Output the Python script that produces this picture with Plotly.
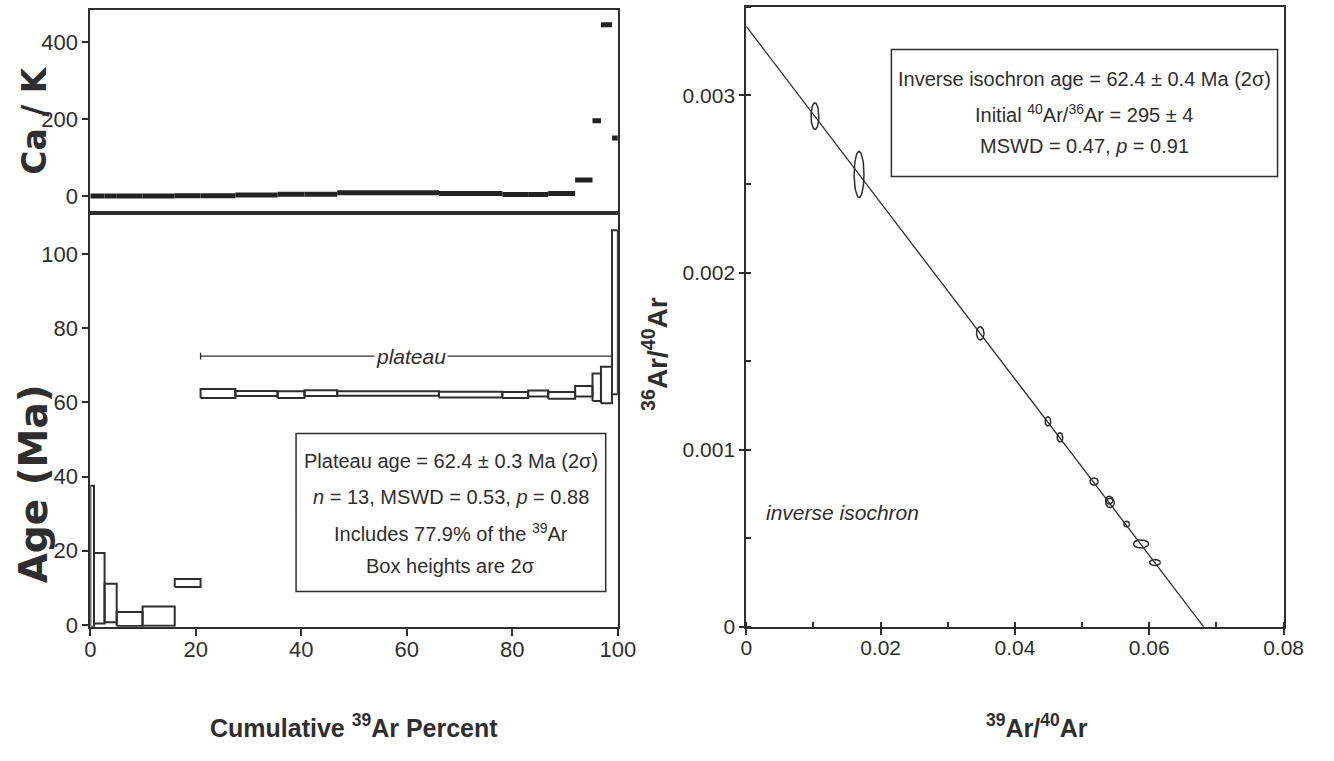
import numpy as np
import plotly.graph_objects as go

# ---------------- data ----------------
# age spectrum steps (cumulative 39Ar %)
step_edges = [0, 0.7, 2.7, 5.0, 9.9, 16.0, 20.9, 27.5, 35.5, 40.6, 46.8, 66.1,
              78.1, 83.0, 86.8, 91.9, 95.2, 96.8, 98.9, 100]
step_age = [18.5, 9.9, 5.9, 1.6, 2.4, 11.3, 62.4, 62.4, 62.1, 62.5, 62.4, 62.1,
            62.0, 62.4, 61.9, 63.0, 64.1, 64.7, 84.3]
step_err = [19.0, 9.5, 5.2, 1.9, 2.6, 1.1, 1.2, 0.7, 0.9, 0.8, 0.6, 0.8,
            0.8, 0.8, 0.9, 1.4, 3.7, 4.9, 22.1]
step_cak = [0.3, 0.3, 0.3, 0.3, 0.3, 1.0, 1.0, 2.6, 5.0, 5.0, 8.5, 7.0,
            4.0, 4.0, 7.0, 42.0, 196.0, 446.0, 151.0]

plateau_start = 20.9
plateau_end = 98.9
plateau_level = 72.5

# inverse isochron data (39Ar/40Ar, 36Ar/40Ar) and ellipse semi-axes
iso_x = [0.01022, 0.01679, 0.03483, 0.04491, 0.04670, 0.05178, 0.05416, 0.05405, 0.05664, 0.05877, 0.06085]
iso_y = [0.002883, 0.002554, 0.001657, 0.00116, 0.00107, 0.00082, 0.00070, 0.000715, 0.00058, 0.000468, 0.000363]
iso_sx = [0.00058, 0.00073, 0.00056, 0.00042, 0.00042, 0.00061, 0.00064, 0.00055, 0.00042, 0.00112, 0.00080]
iso_sy = [0.000075, 0.000130, 0.000037, 0.000026, 0.000026, 0.000020, 0.000026, 0.000022, 0.000016, 0.000023, 0.000017]

fit_x = [0.0, 0.0681]
fit_y = [0.00339, 0.0]

ca_k_ticks = [0, 200, 400]
age_ticks = [0, 20, 40, 60, 80, 100]
cum_ticks = [0, 20, 40, 60, 80, 100]
iso_xticks = [0, 0.02, 0.04, 0.06, 0.08]
iso_xtick_labels = ["0", "0.02", "0.04", "0.06", "0.08"]
iso_yticks = [0, 0.001, 0.002, 0.003]
iso_ytick_labels = ["0", "0.001", "0.002", "0.003"]

plateau_lines = ["Plateau age = 62.4 ± 0.3 Ma (2σ)",
                 "<i>n</i> = 13, MSWD = 0.53, <i>p</i> = 0.88",
                 "Includes 77.9% of the <sup>39</sup>Ar",
                 "Box heights are 2σ"]
isochron_lines = ["Inverse isochron age = 62.4 ± 0.4 Ma (2σ)",
                  "Initial <sup>40</sup>Ar/<sup>36</sup>Ar = 295 ± 4",
                  "MSWD = 0.47, <i>p</i> = 0.91"]

# ---------------- style ----------------
INK = "#2e2e2e"
SANS = "Liberation Sans, Arial, sans-serif"
W, H = 1334, 761


def px_x(p):
    return p / W


def px_y(p):
    return 1 - p / H


fig = go.Figure()

# Ca/K bars
cx, cy = [], []
for i, v in enumerate(step_cak):
    cx += [step_edges[i], step_edges[i + 1], None]
    cy += [v, v, None]
fig.add_trace(go.Scatter(x=cx, y=cy, mode="lines", xaxis="x", yaxis="y",
                         line=dict(color="#222222", width=5), hoverinfo="skip"))

# age boxes
bx, by = [], []
for i, a in enumerate(step_age):
    x0, x1 = step_edges[i], step_edges[i + 1]
    lo, hi = a - step_err[i], a + step_err[i]
    bx += [x0, x1, x1, x0, x0, None]
    by += [lo, lo, hi, hi, lo, None]
fig.add_trace(go.Scatter(x=bx, y=by, mode="lines", xaxis="x2", yaxis="y2",
                         line=dict(color=INK, width=2), hoverinfo="skip"))

# plateau bar with end caps
fig.add_trace(go.Scatter(
    x=[plateau_start, plateau_end, None, plateau_start, plateau_start, None, plateau_end, plateau_end],
    y=[plateau_level, plateau_level, None, plateau_level - 0.9, plateau_level + 0.9, None,
       plateau_level - 0.9, plateau_level + 0.9],
    mode="lines", xaxis="x2", yaxis="y2", line=dict(color=INK, width=1.3), hoverinfo="skip"))

# isochron line
fig.add_trace(go.Scatter(x=fit_x, y=fit_y, mode="lines", xaxis="x3", yaxis="y3",
                         line=dict(color=INK, width=1.3), hoverinfo="skip"))

# error ellipses
t = np.linspace(0, 2 * np.pi, 61)
ex, ey = [], []
for xc, yc, sx, sy in zip(iso_x, iso_y, iso_sx, iso_sy):
    ex += list(xc + sx * np.cos(t)) + [None]
    ey += list(yc + sy * np.sin(t)) + [None]
fig.add_trace(go.Scatter(x=ex, y=ey, mode="lines", xaxis="x3", yaxis="y3",
                         line=dict(color=INK, width=1.5), hoverinfo="skip"))

left_font = dict(family=SANS, size=22, color=INK)
right_font = dict(family=SANS, size=21, color=INK)
axis_common = dict(showline=True, linecolor=INK, linewidth=2, mirror=True,
                   showgrid=False, zeroline=False, tickcolor=INK, tickwidth=1.5)

xl = [px_x(86), px_x(624)]
fig.update_layout(
    width=W, height=H, margin=dict(l=0, r=0, t=0, b=0),
    paper_bgcolor="white", plot_bgcolor="white", showlegend=False,
    xaxis=dict(domain=xl, range=[0, 100], anchor="y", showticklabels=False, ticks="", **axis_common),
    yaxis=dict(domain=[px_y(216), px_y(10)], range=[-43.6, 484.6], anchor="x",
               tickvals=ca_k_ticks, ticks="outside", ticklen=6, tickfont=left_font, **axis_common),
    xaxis2=dict(domain=xl, range=[0, 100], anchor="y2", tickvals=cum_ticks,
                ticks="outside", ticklen=7, ticklabelstandoff=-5, tickfont=left_font, **axis_common),
    yaxis2=dict(domain=[px_y(636), px_y(216)], range=[-0.5, 111.1], anchor="x2",
                tickvals=age_ticks, ticks="outside", ticklen=6, tickfont=left_font, **axis_common),
    xaxis3=dict(domain=[px_x(755), px_x(1303)], range=[0, 0.08], anchor="y3",
                tickvals=iso_xticks, ticktext=iso_xtick_labels, ticks="outside", ticklen=6,
                ticklabelstandoff=-5, tickfont=right_font,
                minor=dict(dtick=0.01, ticks="inside", ticklen=5, tickcolor=INK),
                **axis_common),
    yaxis3=dict(domain=[px_y(636), px_y(7)], range=[0, 0.0035], anchor="x3",
                tickvals=iso_yticks, ticktext=iso_ytick_labels, ticks="outside", ticklen=5,
                tickfont=right_font,
                minor=dict(dtick=0.0005, ticks="inside", ticklen=5, tickcolor=INK),
                **axis_common),
)

# text boxes
fig.add_shape(type="rect", xref="x2", yref="y2", x0=39.0, x1=97.7, y0=9.0, y1=51.6,
              line=dict(color=INK, width=1.5), fillcolor="white", layer="above")
fig.add_shape(type="rect", xref="x3", yref="y3", x0=0.0216, x1=0.0791, y0=0.002543, y1=0.00326,
              line=dict(color=INK, width=1.5), fillcolor="white", layer="above")

txt = dict(family=SANS, size=20, color=INK)
center = dict(showarrow=False, xanchor="center", yanchor="middle")
annots = []
for line, yv in zip(plateau_lines, [44.3, 34.6, 25.0, 15.8]):
    annots.append(dict(xref="x2", yref="y2", x=68.35, y=yv, text=line, font=txt, **center))
for line, yv in zip(isochron_lines, [0.003094, 0.002899, 0.002714]):
    annots.append(dict(xref="x3", yref="y3", x=0.05035, y=yv, text=line, font=txt, **center))
annots += [
    dict(xref="x2", yref="y2", x=60.7, y=plateau_level, text="<i>plateau</i>",
         font=dict(family=SANS, size=21, color=INK), bgcolor="white", borderpad=1, **center),
    dict(xref="x3", yref="y3", x=0.0143, y=0.000645, text="<i>inverse isochron</i>",
         font=dict(family=SANS, size=21, color=INK), **center),
    # axis titles
    dict(xref="paper", yref="paper", x=px_x(29), y=px_y(122), text="<b>Ca / K</b>", textangle=-90,
         font=dict(family="DejaVu Sans", size=33, color=INK), **center),
    dict(xref="paper", yref="paper", x=px_x(28), y=px_y(491), text="<b>Age (Ma)</b>", textangle=-90,
         font=dict(family="DejaVu Sans", size=39, color=INK), **center),
    dict(xref="paper", yref="paper", x=px_x(662), y=px_y(359),
         text="<b><sup>36</sup>Ar/<sup>40</sup>Ar</b>", textangle=-90,
         font=dict(family=SANS, size=28, color=INK), **center),
    dict(xref="paper", yref="paper", x=px_x(355), y=px_y(737),
         text="<b>Cumulative <sup>39</sup>Ar Percent</b>",
         font=dict(family=SANS, size=25, color=INK), **center),
    dict(xref="paper", yref="paper", x=px_x(1051), y=px_y(737),
         text="<b><sup>39</sup>Ar/<sup>40</sup>Ar</b>",
         font=dict(family=SANS, size=25, color=INK), **center),
]
fig.update_layout(annotations=annots)

fig.write_html("out.html")
